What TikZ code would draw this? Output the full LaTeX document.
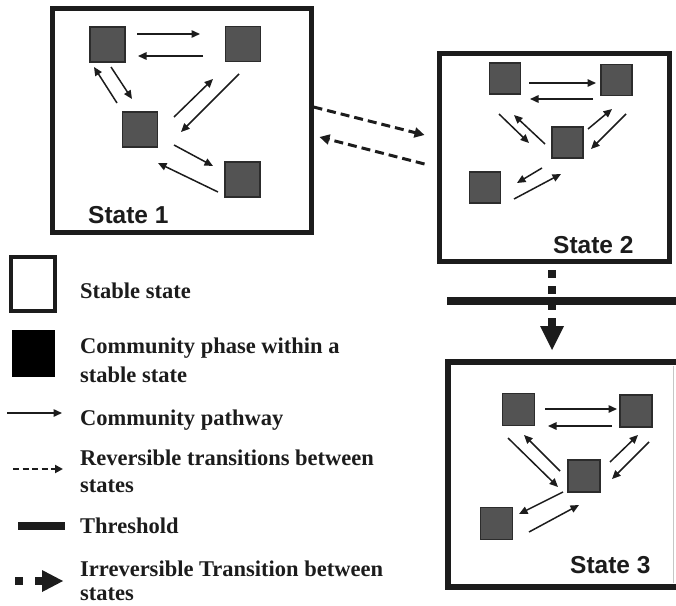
\documentclass[tikz,border=0pt]{standalone}
\usepackage{fontspec}
\setmainfont{Liberation Serif}
\newfontfamily\lsans{Liberation Sans}
\usetikzlibrary{arrows.meta}
\definecolor{sqfill}{HTML}{535353}
\definecolor{sqline}{HTML}{2C2C2C}
\definecolor{ink}{HTML}{1C1C1C}
\begin{document}
\begin{tikzpicture}[x=1pt,y=-1pt,
  statebox/.style={draw=ink, line width=5pt, inner sep=0pt},
  phase/.style={draw=sqline, fill=sqfill, line width=1.2pt, inner sep=0pt},
  pathway/.style={draw=ink, line width=1.5pt, -{Triangle[length=8.5pt,width=7.5pt]}},
  trans/.style={draw=ink, line width=3pt, dash pattern=on 9pt off 5pt, -{Triangle[length=10pt,width=10pt]}},
  statelabel/.style={anchor=base west, inner sep=0pt, font=\lsans\bfseries\fontsize{24.5}{28}\selectfont, text=ink},
  legtext/.style={anchor=base west, inner sep=0pt, align=left, font=\bfseries\fontsize{22.5}{27}\selectfont, text=ink}
]
\useasboundingbox (0,0) rectangle (676,605);
\clip (0,0) rectangle (676,605);

% ---------- State boxes ----------
\node[statebox, minimum width=259pt, minimum height=224pt] (S1) at (181.5,120) {};
\node[statebox, minimum width=230pt, minimum height=208pt] (S2) at (554,157) {};
\node[statebox, line width=6pt, minimum width=242pt, minimum height=225pt] (S3) at (569,474.5) {};
\draw[gray!45, line width=1pt] (673,366) -- (673,583);

% ---------- State 1 ----------
\node[phase, minimum size=35pt] (A1) at (107.5,44.5) {};
\node[phase, minimum size=35pt] (B1) at (243,44) {};
\node[phase, minimum size=35pt] (C1) at (140,129.5) {};
\node[phase, minimum size=35pt] (D1) at (242.5,179.5) {};
\draw[pathway] (137,34) -- (200,34);
\draw[pathway] (203,56) -- (138,56);
\draw[pathway] (117,103) -- (94,67);
\draw[pathway] (111,67) -- (132,99);
\draw[pathway] (174,117) -- (213,79);
\draw[pathway] (239,74) -- (181,132);
\draw[pathway] (174,145) -- (213,166);
\draw[pathway] (218,192) -- (158,163);
\node[statelabel] (L1) at (88,223) {State 1};

% ---------- State 2 ----------
\node[phase, minimum size=31pt] (A2) at (505,78.5) {};
\node[phase, minimum size=31pt] (B2) at (616.5,80) {};
\node[phase, minimum size=31pt] (C2) at (567.5,142.5) {};
\node[phase, minimum size=31pt] (D2) at (485,187.5) {};
\draw[pathway] (529,83) -- (596,83);
\draw[pathway] (593,99) -- (530,99);
\draw[pathway] (499,114) -- (529,143);
\draw[pathway] (545,144) -- (514,115);
\draw[pathway] (588,129) -- (612,109);
\draw[pathway] (626,114) -- (591,149);
\draw[pathway] (542,168) -- (517,183);
\draw[pathway] (514,199) -- (561,174);
\node[statelabel] (L2) at (553,253) {State 2};

% ---------- State 3 ----------
\node[phase, minimum size=32pt] (A3) at (518.5,409.5) {};
\node[phase, minimum size=32pt] (B3) at (636,411) {};
\node[phase, minimum size=32pt] (C3) at (584,476) {};
\node[phase, minimum size=32pt] (D3) at (496.5,523.5) {};
\draw[pathway] (545,409) -- (617,409);
\draw[pathway] (612,426) -- (548,426);
\draw[pathway] (508,438) -- (558,487);
\draw[pathway] (560,471) -- (524,435);
\draw[pathway] (610,462) -- (638,435);
\draw[pathway] (649,442) -- (612,479);
\draw[pathway] (563,492) -- (519,514);
\draw[pathway] (529,532) -- (579,505);
\node[statelabel] (L3) at (570,573) {State 3};

% ---------- Reversible transitions ----------
\draw[trans] ([yshift=13pt]S1.east) -- ([xshift=-12pt,yshift=22pt]S2.west);
\draw[trans] ([xshift=-12pt,yshift=-7pt]S2.west) -- ([xshift=6pt,yshift=-17pt]S1.east);

% ---------- Irreversible transition and threshold ----------
\coordinate (irrA) at (552,270);
\coordinate (irrB) at (552,326);
\coordinate (irrTip) at (552,350);
\draw[ink, line width=8pt, dash pattern=on 8pt off 8pt] (irrA) -- (irrB);
\fill[ink] (540,326) -- (564,326) -- (irrTip) -- cycle;
\coordinate (thL) at (447,301);
\coordinate (thR) at (680,301);
\draw[ink, line width=8pt] (thL) -- (thR);

% ---------- Legend ----------
\node[draw=ink, line width=4pt, minimum width=44pt, minimum height=54pt, inner sep=0pt] (Lstable) at (33,284) {};
\node[legtext] (Tstable) at (80,298) {Stable state};

\node[fill=black, minimum width=43pt, minimum height=47pt, inner sep=0pt] (Lphase) at (33.5,353.5) {};
\node[legtext, font=\bfseries\fontsize{22.5}{29}\selectfont] (Tphase) at (80,382) {Community phase within a\\stable state};

\coordinate (Lpa) at (7,413);
\coordinate (Lpb) at (62,413);
\draw[pathway] (Lpa) -- (Lpb);
\node[legtext] (Tpath) at (80,425) {Community pathway};

\coordinate (Lra) at (13,469);
\coordinate (Lrb) at (63,469);
\draw[draw=ink, line width=2.5pt, dash pattern=on 6pt off 3.5pt, -{Triangle[length=8pt,width=8pt]}] (Lra) -- (Lrb);
\node[legtext, font=\bfseries\fontsize{22.5}{27}\selectfont] (Trev) at (80,492) {Reversible transitions between\\states};

\coordinate (Lta) at (18,526);
\coordinate (Ltb) at (65,526);
\draw[ink, line width=8pt] (Lta) -- (Ltb);
\node[legtext] (Tthr) at (80,533) {Threshold};

\coordinate (Lia) at (15,581);
\coordinate (Lib) at (43,581);
\draw[ink, line width=8pt, dash pattern=on 8pt off 12pt] (Lia) -- (Lib);
\fill[ink] (42,570) -- (42,592) -- (63,581) -- cycle;
\node[legtext, font=\bfseries\fontsize{22.5}{24}\selectfont] (Tirr) at (80,600) {Irreversible Transition between\\states};
\end{tikzpicture}
\end{document}
